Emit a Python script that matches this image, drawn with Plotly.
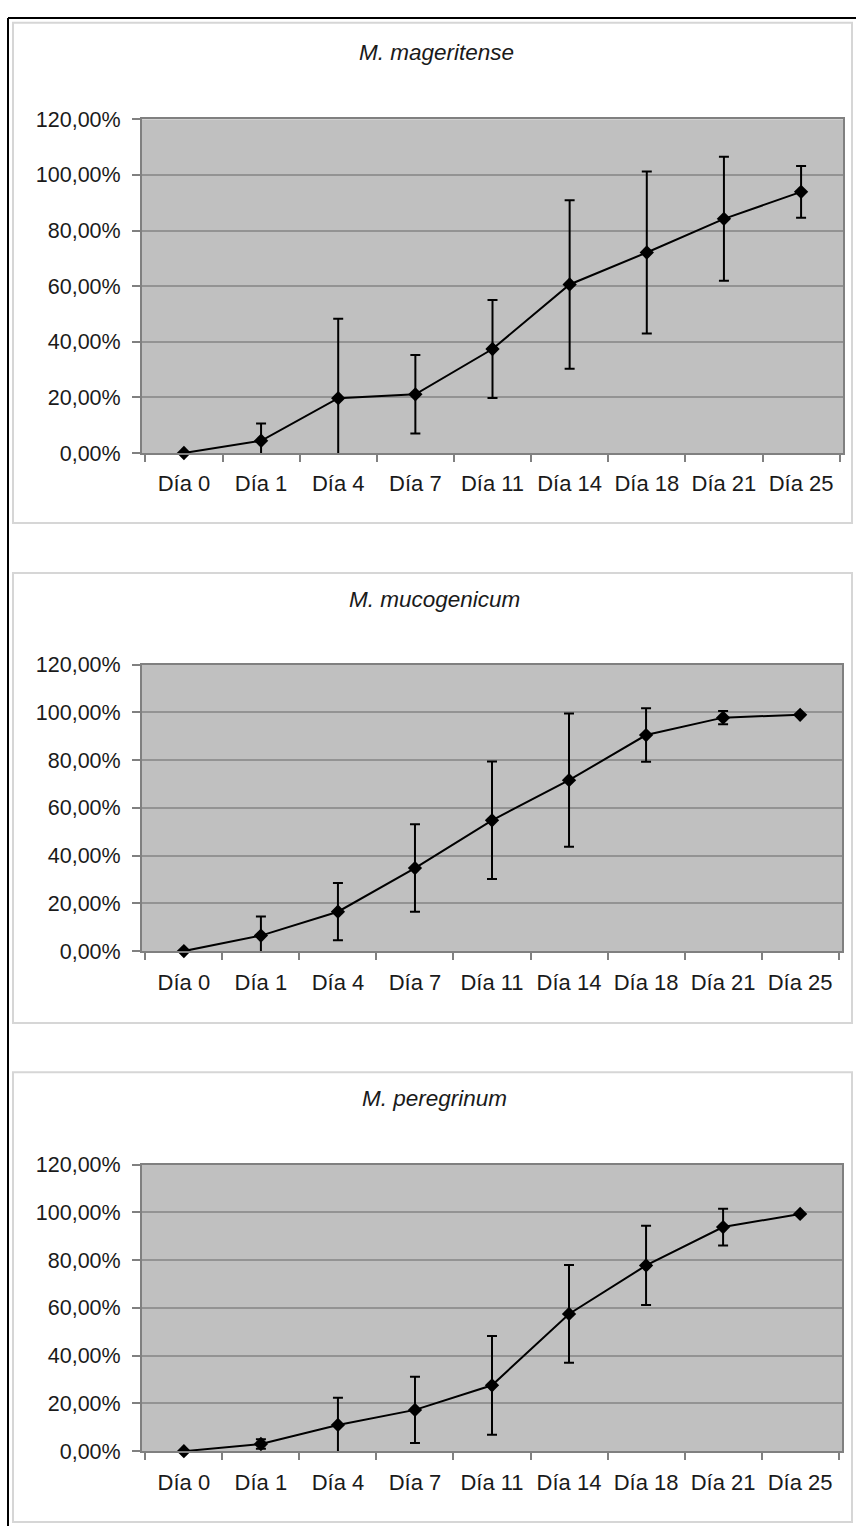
import plotly.graph_objects as go

# Sampling days (shared category axis)
days = ["Día 0", "Día 1", "Día 4", "Día 7", "Día 11", "Día 14", "Día 18", "Día 21", "Día 25"]

# Mean proportion per day and its standard deviation, one pair per species
mageritense_mean = [0.0, 0.044, 0.197, 0.211, 0.374, 0.606, 0.721, 0.842, 0.939]
mageritense_sd = [0.0, 0.062, 0.286, 0.141, 0.176, 0.303, 0.291, 0.223, 0.093]

mucogenicum_mean = [0.0, 0.065, 0.165, 0.348, 0.548, 0.716, 0.905, 0.978, 0.990]
mucogenicum_sd = [0.0, 0.080, 0.120, 0.183, 0.246, 0.279, 0.112, 0.028, 0.0]

peregrinum_mean = [0.0, 0.030, 0.110, 0.173, 0.276, 0.575, 0.778, 0.939, 0.994]
peregrinum_sd = [0.0, 0.020, 0.114, 0.139, 0.207, 0.205, 0.166, 0.077, 0.0]

titles = ["M. mageritense", "M. mucogenicum", "M. peregrinum"]
y_ticks = [0, 0.2, 0.4, 0.6, 0.8, 1.0, 1.2]

W, H = 856, 1539

def px_x(x):
    return x / W

def px_y(y):
    return 1 - y / H

# Plot-area boxes in pixels: (left, top, right, bottom)
plot_boxes = [(142, 110, 843, 449), (142, 664, 842, 955), (142, 1172, 842, 1463)]
# Outer chart-area boxes in pixels
panel_boxes = [(13, 12, 852, 520), (13, 571, 852, 1028), (13, 1078, 852, 1535)]
title_pos = [(436, 42), (434, 598), (434, 1105)]

series = [
    (mageritense_mean, mageritense_sd),
    (mucogenicum_mean, mucogenicum_sd),
    (peregrinum_mean, peregrinum_sd),
]

FONT = "Liberation Sans, Arial, sans-serif"

fig = go.Figure()
layout = dict(
    width=W,
    height=H,
    margin=dict(l=0, r=0, t=0, b=0),
    paper_bgcolor="white",
    plot_bgcolor="#c0c0c0",
    showlegend=False,
    separators=",.",
    font=dict(family=FONT, size=22, color="#1a1a1a"),
)

shapes = []
annotations = []

for i, ((mean, sd), box, pbox, tpos, title) in enumerate(
    zip(series, plot_boxes, panel_boxes, title_pos, titles)
):
    n = "" if i == 0 else str(i + 1)
    xa, ya = "x" + n, "y" + n
    # line + error bars (clipped to the plot area)
    fig.add_trace(
        go.Scatter(
            x=days,
            y=mean,
            mode="lines",
            line=dict(color="black", width=2),
            error_y=dict(type="data", array=sd, visible=True, color="black",
                         thickness=2, width=5),
            xaxis=xa,
            yaxis=ya,
            cliponaxis=True,
            hoverinfo="skip",
        )
    )
    # diamond markers, kept whole on the axis line
    fig.add_trace(
        go.Scatter(
            x=days,
            y=mean,
            mode="markers",
            marker=dict(symbol="diamond", size=11, color="black"),
            xaxis=xa,
            yaxis=ya,
            cliponaxis=False,
        )
    )
    l, t, r, b = box
    layout["xaxis" + n] = dict(
        domain=[px_x(l), px_x(r)],
        anchor=ya,
        type="category",
        tickson="boundaries",
        ticks="outside",
        ticklen=7,
        tickwidth=1.5,
        tickcolor="#808080",
        showline=True,
        linecolor="#808080",
        linewidth=2,
        mirror=True,
        showgrid=False,
        ticklabelstandoff=10,
        tickfont=dict(family=FONT, size=22, color="#1a1a1a"),
        fixedrange=True,
    )
    layout["yaxis" + n] = dict(
        domain=[px_y(b), px_y(t)],
        anchor=xa,
        range=[0, 1.2],
        tickvals=y_ticks,
        tickformat=".2%",
        ticks="outside",
        ticklen=8,
        tickwidth=1.5,
        tickcolor="#808080",
        showline=True,
        linecolor="#808080",
        linewidth=2,
        mirror=True,
        showgrid=True,
        gridcolor="#939393",
        gridwidth=1.5,
        zeroline=False,
        ticklabelstandoff=7,
        tickfont=dict(family=FONT, size=21.5, color="#1a1a1a"),
        fixedrange=True,
    )
    pl, pt, pr, pb = pbox
    shapes.append(dict(
        type="rect", xref="paper", yref="paper",
        x0=px_x(pl), x1=px_x(pr), y0=px_y(pb), y1=px_y(pt),
        line=dict(color="#d6d6d6", width=2), fillcolor="rgba(0,0,0,0)",
        layer="below",
    ))
    annotations.append(dict(
        text=title, xref="paper", yref="paper",
        x=px_x(tpos[0]), y=px_y(tpos[1]),
        xanchor="center", yanchor="middle", showarrow=False,
        font=dict(family=FONT, size=22.5, color="#1a1a1a", style="italic"),
    ))

# outer black frame (top and left edges)
shapes.append(dict(type="line", xref="paper", yref="paper",
                   x0=px_x(8), x1=1, y0=px_y(7), y1=px_y(7),
                   line=dict(color="black", width=2)))
shapes.append(dict(type="line", xref="paper", yref="paper",
                   x0=px_x(8), x1=px_x(8), y0=0, y1=px_y(7),
                   line=dict(color="black", width=2)))

layout["shapes"] = shapes
layout["annotations"] = annotations
fig.update_layout(**layout)

# pin the graph to the top-left corner of a page exactly its size
page_js = (
    "var gd = document.getElementById('{plot_id}');"
    "gd.style.position = 'fixed'; gd.style.top = '0px'; gd.style.left = '0px';"
    "document.documentElement.style.margin = '0';"
    "document.documentElement.style.overflow = 'hidden';"
    "document.body.style.margin = '0';"
    "document.body.style.padding = '0';"
    "document.body.style.height = '" + str(H) + "px';"
    "document.body.style.overflow = 'hidden';"
)

fig.write_html("out.html", post_script=page_js)
